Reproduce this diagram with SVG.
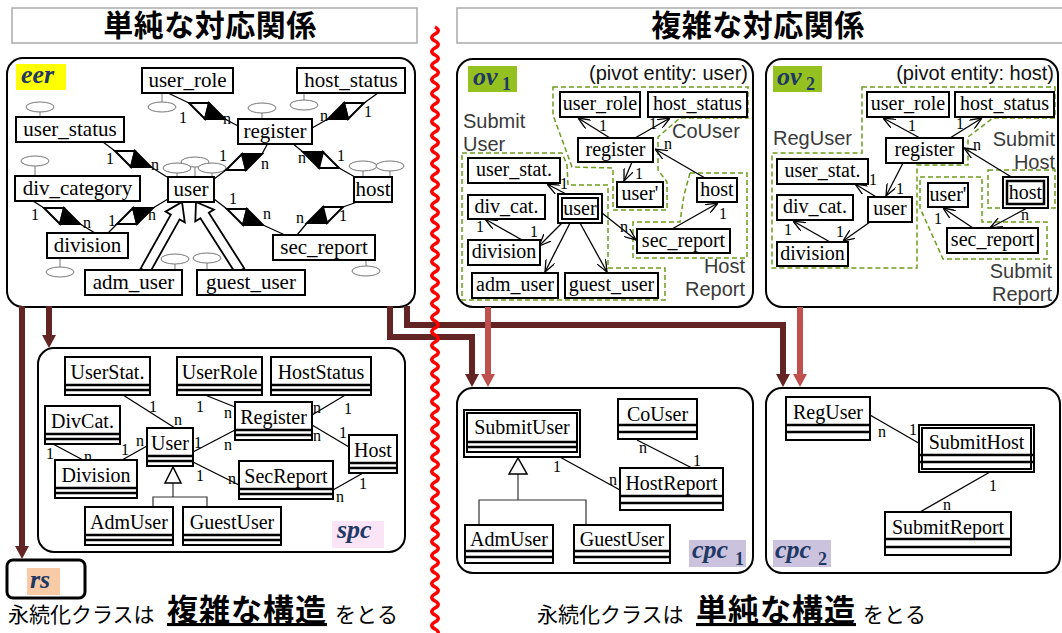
<svg xmlns="http://www.w3.org/2000/svg" width="1062" height="633" viewBox="0 0 1062 633">
<style>
.bx{fill:#fff;stroke:#000;stroke-width:2}
.pn{fill:#fff;stroke:#000;stroke-width:2}
.te{font-family:"Liberation Serif","Times New Roman",Times,"DejaVu Serif",serif;font-size:21px;text-anchor:middle}
.to{font-family:"Liberation Serif","Times New Roman",Times,"DejaVu Serif",serif;font-size:20px;text-anchor:middle}
.lb{font-family:"Liberation Serif","Times New Roman",Times,"DejaVu Serif",serif;font-size:16px;text-anchor:middle}
.el{fill:#fff;stroke:#777;stroke-width:1}
.al{stroke:#777;stroke-width:1}
.ln{stroke:#000;stroke-width:1.3;fill:none}
.gl{stroke:#333;stroke-width:1.2;fill:none}
.ar{stroke:#000;stroke-width:1.3;fill:none;marker-end:url(#oa)}
.rg{fill:none;stroke:#6d9c1c;stroke-width:1.5;stroke-dasharray:5 3}
.rt{font-family:"Liberation Sans",Arial,sans-serif;font-size:20px;fill:#3a3a3a}
.rte{font-family:"Liberation Sans",Arial,sans-serif;font-size:20px;fill:#3a3a3a;text-anchor:end}
.pv{font-family:"Liberation Sans",Arial,sans-serif;font-size:20px;fill:#111;text-anchor:end}
.tag{font-family:"Liberation Serif","Times New Roman",Times,"DejaVu Serif",serif;font-weight:bold;font-style:italic;font-size:26px;fill:#1f3864}
.sub{font-family:"Liberation Serif","Times New Roman",Times,"DejaVu Serif",serif;font-weight:bold;font-size:18px;fill:#1f3864}
.w{fill:#fff;stroke:#000;stroke-width:2}
.k{fill:#000;stroke:#000;stroke-width:2}
.ga{fill:#fff;stroke:#000;stroke-width:1.8}
.big{fill:none;stroke-width:6}
.dk{stroke:#632523}
.lt{stroke:#c0504d}
.hd{font-family:"Noto Sans CJK JP",sans-serif;font-weight:bold;font-size:30px;letter-spacing:0.5px;text-anchor:middle}
.jp{font-family:"Noto Sans CJK JP",sans-serif;font-size:21px}
.jb{font-family:"Noto Sans CJK JP",sans-serif;font-size:31px;letter-spacing:1px;font-weight:bold;text-decoration:underline}
.cl{fill:#fff;stroke:#000;stroke-width:2}
.cs{stroke:#000;stroke-width:2.5}
.hb{fill:#fff;stroke:#aaa;stroke-width:1.5}
</style>
<defs>
<marker id="oa" viewBox="0 0 12 10" refX="12" refY="5" markerWidth="12" markerHeight="10" markerUnits="userSpaceOnUse" orient="auto"><path d="M0,0 L12,5 L0,10" fill="none" stroke="#000" stroke-width="1.3"/></marker>
</defs>

<!-- headers -->
<g id="header-left"><rect class="hb" x="12" y="8" width="405" height="35"/><text class="hd" x="210" y="36">単純な対応関係</text></g>
<g id="header-right"><rect class="hb" x="457" y="8" width="620" height="35"/><text class="hd" x="758" y="36">複雑な対応関係</text></g>

<!-- panels -->
<g id="panel-eer"><rect class="pn" x="7" y="58" width="408" height="249" rx="16"/><rect x="16" y="64" width="50" height="26" fill="#ffff00"/><text class="tag" x="21" y="83">eer</text></g>
<g id="panel-ov1"><rect class="pn" x="457" y="59" width="296" height="248" rx="16"/><rect x="468" y="66" width="49" height="26" fill="#94c11f"/><text class="tag" x="473" y="85">ov</text><text class="sub" x="502" y="90">1</text><text class="pv" x="748" y="80">(pivot entity: user)</text></g>
<g id="panel-ov2"><rect class="pn" x="766" y="59" width="292" height="248" rx="16"/><rect x="773" y="66" width="49" height="26" fill="#94c11f"/><text class="tag" x="777" y="85">ov</text><text class="sub" x="806" y="90">2</text><text class="pv" x="1054" y="80">(pivot entity: host)</text></g>
<g id="panel-spc"><rect class="pn" x="38" y="348" width="367" height="204" rx="16"/><rect x="332" y="521" width="52" height="27" fill="#fce4f7"/><text class="tag" x="337" y="538">spc</text></g>
<g id="panel-cpc1"><rect class="pn" x="457" y="388" width="296" height="185" rx="16"/><rect x="689" y="540" width="57" height="27" fill="#cbc3de"/><text class="tag" x="692" y="558">cpc</text><text class="sub" x="735" y="565">1</text></g>
<g id="panel-cpc2"><rect class="pn" x="766" y="388" width="294" height="185" rx="16"/><rect x="773" y="540" width="58" height="27" fill="#cbc3de"/><text class="tag" x="775" y="558">cpc</text><text class="sub" x="818" y="565">2</text></g>
<g id="panel-rs"><rect x="7" y="560" width="78" height="38" rx="6" fill="#fff" stroke="#000" stroke-width="3"/><rect x="27" y="568" width="33" height="27" fill="#f8cba6"/><text class="tag" x="30" y="588">rs</text></g>

<!-- ov regions -->
<g id="regions">
<polygon class="rg" points="553,87 748,87 748,118 680,118 658,137 658,170 667,182 667,210 613,210 613,168 572,167 553,115"/>
<polygon class="rg" points="462,153 562,153 567,165 568,185 608,185 608,268 665,268 665,300 462,300"/>
<polygon class="rg" points="690,173 747,173 747,258 633,258 633,222 680,222 684,195"/>
<text class="rt" x="672" y="138">CoUser</text>
<text class="rt" x="463" y="128">Submit</text><text class="rt" x="463" y="150.5">User</text>
<text class="rte" x="745" y="273">Host</text><text class="rte" x="745" y="295.5">Report</text>
<polygon class="rg" points="862,87 1055,87 1055,118 993,118 968,137 968,165 917,165 917,268 772,268 772,153 862,153"/>
<rect class="rg" x="988" y="170" width="67" height="38"/>
<polygon class="rg" points="920,177 982,177 982,222 1047,222 1047,259 943,259 920,208"/>
<text class="rt" x="773" y="145">RegUser</text>
<text class="rte" x="1055" y="146">Submit</text><text class="rte" x="1055" y="168.5">Host</text>
<text class="rte" x="1052" y="278">Submit</text><text class="rte" x="1052" y="300.5">Report</text>
</g>

<!-- connectors -->
<g id="connectors">
<g id="eer-attrs">
<line class="al" x1="40" y1="112" x2="40" y2="117"/><ellipse class="el" cx="40" cy="107" rx="14" ry="5"/>
<line class="al" x1="162" y1="93" x2="162" y2="102"/><ellipse class="el" cx="162" cy="107" rx="14" ry="5"/>
<line class="al" x1="35" y1="166" x2="35" y2="176"/><ellipse class="el" cx="35" cy="161" rx="14" ry="5"/>
<line class="al" x1="60" y1="258" x2="60" y2="267"/><ellipse class="el" cx="60" cy="272" rx="14" ry="5"/>
<line class="al" x1="177" y1="173" x2="177" y2="177"/><line class="al" x1="195" y1="167" x2="195" y2="177"/><line class="al" x1="212" y1="173" x2="212" y2="177"/>
<ellipse class="el" cx="195" cy="162" rx="14" ry="5"/><ellipse class="el" cx="177" cy="168" rx="14" ry="5"/><ellipse class="el" cx="212" cy="168" rx="14" ry="5"/>
<line class="al" x1="262" y1="113" x2="262" y2="119"/><ellipse class="el" cx="262" cy="108" rx="14" ry="5"/>
<line class="al" x1="304" y1="93" x2="304" y2="100"/><ellipse class="el" cx="304" cy="105" rx="14" ry="5"/>
<line class="al" x1="363" y1="171" x2="363" y2="177"/><line class="al" x1="390" y1="171" x2="390" y2="177"/>
<ellipse class="el" cx="363" cy="166" rx="14" ry="5"/><ellipse class="el" cx="390" cy="166" rx="14" ry="5"/>
<line class="al" x1="366" y1="260" x2="366" y2="266"/><ellipse class="el" cx="366" cy="271" rx="14" ry="5"/>
<line class="al" x1="175" y1="264" x2="175" y2="270"/><ellipse class="el" cx="175" cy="259" rx="14" ry="5"/>
<line class="al" x1="207" y1="263" x2="207" y2="270"/><ellipse class="el" cx="207" cy="258" rx="14" ry="5"/>
</g>
<g id="eer-rel">
<path class="ln" d="M168,93 L189,103 M225,119 L238,126"/>
<polygon class="w" points="189,103 209,103 205,119"/><polygon class="k" points="209,103 225,119 205,119"/>
<path class="ln" d="M378,93 L364,103 M328,119 L312,128"/>
<polygon class="w" points="344,103 364,103 348,119"/><polygon class="k" points="328,119 348,119 344,103"/>
<path class="ln" d="M103,142 L115,151 M151,167 L167,177"/>
<polygon class="w" points="115,151 135,151 131,167"/><polygon class="k" points="135,151 151,167 131,167"/>
<path class="ln" d="M33,201 L44,208 M80,224 L95,233"/>
<polygon class="w" points="44,208 64,208 60,224"/><polygon class="k" points="64,208 80,224 60,224"/>
<path class="ln" d="M108,233 L117,224 M153,208 L168,199"/>
<polygon class="w" points="117,224 137,224 133,208"/><polygon class="k" points="133,208 153,208 137,224"/>
<path class="ln" d="M214,179 L226,170 M262,154 L268,143"/>
<polygon class="w" points="226,170 246,170 242,154"/><polygon class="k" points="242,154 262,154 246,170"/>
<path class="ln" d="M292,143 L303,152 M339,168 L355,177"/>
<polygon class="k" points="303,152 323,152 319,168"/><polygon class="w" points="323,152 339,168 319,168"/>
<path class="ln" d="M214,199 L227,209 M263,225 L285,235"/>
<polygon class="w" points="227,209 247,209 243,225"/><polygon class="k" points="247,209 263,225 243,225"/>
<path class="ln" d="M297,235 L307,223 M343,207 L360,201"/>
<polygon class="k" points="307,223 327,223 323,207"/><polygon class="w" points="323,207 343,207 327,223"/>
<text class="lb" x="183" y="123">1</text><text class="lb" x="227" y="124">n</text>
<text class="lb" x="324" y="121">n</text><text class="lb" x="368" y="117">1</text>
<text class="lb" x="110" y="164">1</text><text class="lb" x="155" y="170">n</text>
<text class="lb" x="35" y="220">1</text><text class="lb" x="87" y="228">n</text>
<text class="lb" x="112" y="226">1</text><text class="lb" x="152" y="220">n</text>
<text class="lb" x="223" y="161">1</text><text class="lb" x="265" y="169">n</text>
<text class="lb" x="302" y="163">n</text><text class="lb" x="341" y="161">1</text>
<text class="lb" x="233" y="204">1</text><text class="lb" x="267" y="219">n</text>
<text class="lb" x="300" y="223">n</text><text class="lb" x="343" y="221">1</text>
<polygon class="ga" points="140.6,268.6 170.8,214.6 165.6,211.6 182,202 184.8,222.4 179.6,219.4 149.4,273.4"/>
<polygon class="ga" points="235.8,273.7 200.4,218.2 195.3,221.4 196,202 213.9,209.6 208.8,212.8 244.2,268.3"/>
</g>
<g id="ov1-edges">
<line class="ar" x1="610" y1="138" x2="578" y2="118"/><text class="lb" x="603" y="131">1</text>
<line class="ar" x1="635" y1="138" x2="670" y2="118"/><text class="lb" x="653" y="129">1</text>
<line class="ar" x1="632" y1="162" x2="624" y2="181"/><text class="lb" x="639" y="179">1</text>
<line class="ar" x1="705" y1="178" x2="655" y2="149"/><text class="lb" x="668" y="149">n</text>
<line class="ar" x1="672" y1="229" x2="718" y2="203"/><text class="lb" x="723" y="219">1</text>
<line class="ar" x1="602" y1="213" x2="636" y2="240"/><text class="lb" x="624" y="232">n</text>
<line class="ar" x1="568" y1="195" x2="547" y2="184"/><text class="lb" x="564" y="189">1</text>
<line class="ar" x1="522" y1="240" x2="485" y2="219"/><text class="lb" x="480" y="232">1</text><text class="lb" x="534" y="237">1</text>
<line class="ar" x1="562" y1="223" x2="539" y2="246"/>
<line class="ar" x1="570" y1="223" x2="545" y2="272"/>
<line class="ar" x1="580" y1="223" x2="607" y2="272"/>
</g>
<g id="ov2-edges">
<line class="ar" x1="920" y1="138" x2="883" y2="118"/><text class="lb" x="912" y="131">1</text>
<line class="ar" x1="950" y1="138" x2="982" y2="118"/><text class="lb" x="960" y="129">1</text>
<line class="ar" x1="903" y1="163" x2="886" y2="196"/><text class="lb" x="900" y="194">1</text>
<line class="ar" x1="878" y1="198" x2="855" y2="184"/><text class="lb" x="873" y="185">1</text>
<line class="ar" x1="830" y1="242" x2="793" y2="221"/><text class="lb" x="788" y="235">1</text>
<line class="ar" x1="870" y1="222" x2="843" y2="241"/><text class="lb" x="840" y="237">1</text>
<line class="ar" x1="1013" y1="178" x2="964" y2="148"/><text class="lb" x="977" y="150">n</text>
<line class="ar" x1="1027" y1="208" x2="990" y2="228"/><text class="lb" x="1025" y="220">n</text>
<line class="ar" x1="973" y1="228" x2="943" y2="208"/><text class="lb" x="938" y="224">1</text>
</g>
<g id="spc-edges">
<line class="ln" x1="123" y1="395" x2="175" y2="428"/><text class="lb" x="153" y="412">1</text><text class="lb" x="178" y="425">n</text>
<line class="ln" x1="205" y1="395" x2="235" y2="407"/><text class="lb" x="200" y="412">1</text><text class="lb" x="228" y="418">n</text>
<line class="ln" x1="347" y1="394" x2="312" y2="415"/><text class="lb" x="317" y="413">n</text><text class="lb" x="348" y="414">1</text>
<line class="ln" x1="193" y1="452" x2="235" y2="430"/><text class="lb" x="198" y="448">1</text><text class="lb" x="228" y="450">n</text>
<line class="ln" x1="312" y1="425" x2="349" y2="447"/><text class="lb" x="317" y="441">n</text><text class="lb" x="343" y="438">1</text>
<line class="ln" x1="193" y1="462" x2="239" y2="485"/><text class="lb" x="200" y="481">1</text><text class="lb" x="232" y="484">n</text>
<line class="ln" x1="363" y1="473" x2="333" y2="490"/><text class="lb" x="363" y="489">1</text><text class="lb" x="340" y="502">n</text>
<line class="ln" x1="53" y1="444" x2="83" y2="460"/><text class="lb" x="50" y="459">1</text><text class="lb" x="88" y="462">n</text>
<line class="ln" x1="122" y1="460" x2="147" y2="446"/><text class="lb" x="125" y="455">1</text><text class="lb" x="140" y="446">n</text>
<path class="gl" d="M173,483 V497 M153,507 V497 H207 V507"/>
<polygon class="ga" points="173,467 165,483 181,483" style="stroke-width:1.5"/>
</g>
<g id="cpc1-edges">
<line class="ln" x1="637" y1="440" x2="692" y2="468"/><text class="lb" x="643" y="453">n</text><text class="lb" x="697" y="466">1</text>
<line class="ln" x1="558" y1="456" x2="620" y2="490"/><text class="lb" x="557" y="472">1</text><text class="lb" x="613" y="485">n</text>
<path class="gl" d="M518,474 V500 M479,525 V500 H586 V525"/>
<polygon class="ga" points="518,458 509,474 527,474" style="stroke-width:1.5"/>
</g>
<g id="cpc2-edges">
<line class="ln" x1="870" y1="415" x2="922" y2="445"/><text class="lb" x="882" y="437">n</text><text class="lb" x="913" y="435">1</text>
<line class="ln" x1="990" y1="472" x2="920" y2="512"/><text class="lb" x="993" y="491">1</text><text class="lb" x="947" y="510">n</text>
</g>
<g id="mapping-arrows">
<path class="big dk" d="M22,306 V547"/><polygon fill="#632523" points="15,546 29,546 22,559"/>
<path class="big dk" d="M49,306 V336"/><polygon fill="#632523" points="42,335 56,335 49,348"/>
<path class="big dk" d="M390,306 V337 H472 V375"/><polygon fill="#632523" points="465,374 479,374 472,387"/>
<path class="big dk" d="M407,306 V325 H783 V375"/><polygon fill="#632523" points="776,374 790,374 783,387"/>
<path class="big lt" d="M488,307 V375"/><polygon fill="#c0504d" points="481,374 495,374 488,387"/>
<path class="big lt" d="M800,307 V375"/><polygon fill="#c0504d" points="793,374 807,374 800,387"/>
</g>
</g>

<!-- eer nodes -->
<g id="eer-user_role"><rect class="bx" x="142" y="68" width="91" height="25"/><text class="te" x="187.5" y="87">user_role</text></g>
<g id="eer-host_status"><rect class="bx" x="297" y="68" width="108" height="25"/><text class="te" x="351" y="87">host_status</text></g>
<g id="eer-user_status"><rect class="bx" x="16" y="117" width="108" height="25"/><text class="te" x="70" y="136">user_status</text></g>
<g id="eer-register"><rect class="bx" x="238" y="119" width="74" height="25"/><text class="te" x="275" y="138">register</text></g>
<g id="eer-div_category"><rect class="bx" x="15" y="176" width="125" height="25"/><text class="te" x="77.5" y="195">div_category</text></g>
<g id="eer-user"><rect class="bx" x="168" y="177" width="46" height="25"/><text class="te" x="191" y="196">user</text></g>
<g id="eer-host"><rect class="bx" x="354" y="177" width="38" height="25"/><text class="te" x="373" y="196">host</text></g>
<g id="eer-division"><rect class="bx" x="47" y="233" width="81" height="25"/><text class="te" x="87.5" y="252">division</text></g>
<g id="eer-sec_report"><rect class="bx" x="273" y="235" width="102" height="25"/><text class="te" x="324" y="254">sec_report</text></g>
<g id="eer-adm_user"><rect class="bx" x="85" y="270" width="97" height="25"/><text class="te" x="133.5" y="289">adm_user</text></g>
<g id="eer-guest_user"><rect class="bx" x="197" y="270" width="108" height="25"/><text class="te" x="251" y="289">guest_user</text></g>

<!-- ov1 nodes -->
<g id="ov1-user_role"><rect class="bx" x="560" y="92" width="80" height="25"/><text class="to" x="600" y="110">user_role</text></g>
<g id="ov1-host_status"><rect class="bx" x="648" y="92" width="99" height="25"/><text class="to" x="697.5" y="110">host_status</text></g>
<g id="ov1-register"><rect class="bx" x="578" y="138" width="75" height="24"/><text class="to" x="615.5" y="156">register</text></g>
<g id="ov1-user_prime"><rect class="bx" x="617" y="182" width="46" height="25"/><text class="to" x="640" y="200">user'</text></g>
<g id="ov1-user_stat"><rect class="bx" x="468" y="158" width="92" height="25"/><text class="to" x="514" y="176">user_stat.</text></g>
<g id="ov1-user"><rect class="bx" x="558" y="194" width="44" height="29"/><rect class="bx" x="562" y="198" width="36" height="21"/><text class="to" x="580" y="215">user</text></g>
<g id="ov1-div_cat"><rect class="bx" x="468" y="195" width="77" height="24"/><text class="to" x="506.5" y="213">div_cat.</text></g>
<g id="ov1-division"><rect class="bx" x="468" y="240" width="72" height="25"/><text class="to" x="504" y="258">division</text></g>
<g id="ov1-sec_report"><rect class="bx" x="637" y="229" width="93" height="24"/><text class="to" x="683.5" y="247">sec_report</text></g>
<g id="ov1-host"><rect class="bx" x="697" y="178" width="40" height="24"/><text class="to" x="717" y="196">host</text></g>
<g id="ov1-adm_user"><rect class="bx" x="472" y="273" width="86" height="25"/><text class="to" x="515" y="291">adm_user</text></g>
<g id="ov1-guest_user"><rect class="bx" x="565" y="273" width="93" height="25"/><text class="to" x="611.5" y="291">guest_user</text></g>

<!-- ov2 nodes -->
<g id="ov2-user_role"><rect class="bx" x="867" y="92" width="82" height="25"/><text class="to" x="908" y="110">user_role</text></g>
<g id="ov2-host_status"><rect class="bx" x="955" y="92" width="99" height="25"/><text class="to" x="1004.5" y="110">host_status</text></g>
<g id="ov2-register"><rect class="bx" x="886" y="138" width="77" height="25"/><text class="to" x="924.5" y="156">register</text></g>
<g id="ov2-user_stat"><rect class="bx" x="777" y="159" width="91" height="25"/><text class="to" x="822.5" y="177">user_stat.</text></g>
<g id="ov2-user"><rect class="bx" x="868" y="197" width="44" height="25"/><text class="to" x="890" y="215">user</text></g>
<g id="ov2-div_cat"><rect class="bx" x="777" y="195" width="76" height="25"/><text class="to" x="815" y="213">div_cat.</text></g>
<g id="ov2-division"><rect class="bx" x="777" y="242" width="71" height="24"/><text class="to" x="812.5" y="260">division</text></g>
<g id="ov2-user_prime"><rect class="bx" x="928" y="183" width="40" height="24"/><text class="to" x="948" y="201">user'</text></g>
<g id="ov2-host"><rect class="bx" x="1003" y="177" width="45" height="31"/><rect x="1007" y="181" width="37" height="23" fill="#fff" stroke="#000" stroke-width="2.5"/><text class="to" x="1025.5" y="199">host</text></g>
<g id="ov2-sec_report"><rect class="bx" x="947" y="228" width="91" height="25"/><text class="to" x="992.5" y="246">sec_report</text></g>

<!-- spc classes -->
<g id="spc-UserStat"><rect class="cl" x="65" y="357" width="85" height="38"/><path class="cs" d="M65,385 H150 M65,390 H150"/><text class="to" x="107.5" y="379">UserStat.</text></g>
<g id="spc-UserRole"><rect class="cl" x="177" y="357" width="85" height="38"/><path class="cs" d="M177,385 H262 M177,390 H262"/><text class="to" x="219.5" y="379">UserRole</text></g>
<g id="spc-HostStatus"><rect class="cl" x="271" y="357" width="100" height="38"/><path class="cs" d="M271,385 H371 M271,390 H371"/><text class="to" x="321" y="379">HostStatus</text></g>
<g id="spc-DivCat"><rect class="cl" x="45" y="406" width="75" height="38"/><path class="cs" d="M45,434 H120 M45,439 H120"/><text class="to" x="82.5" y="428">DivCat.</text></g>
<g id="spc-User"><rect class="cl" x="147" y="428" width="46" height="38"/><path class="cs" d="M147,456 H193 M147,461 H193"/><text class="to" x="170" y="450">User</text></g>
<g id="spc-Register"><rect class="cl" x="235" y="402" width="77" height="38"/><path class="cs" d="M235,430 H312 M235,435 H312"/><text class="to" x="273.5" y="424">Register</text></g>
<g id="spc-Division"><rect class="cl" x="55" y="460" width="82" height="38"/><path class="cs" d="M55,488 H137 M55,493 H137"/><text class="to" x="96" y="482">Division</text></g>
<g id="spc-Host"><rect class="cl" x="349" y="435" width="48" height="38"/><path class="cs" d="M349,463 H397 M349,468 H397"/><text class="to" x="373" y="457">Host</text></g>
<g id="spc-SecReport"><rect class="cl" x="239" y="461" width="94" height="38"/><path class="cs" d="M239,489 H333 M239,494 H333"/><text class="to" x="286" y="483">SecReport</text></g>
<g id="spc-AdmUser"><rect class="cl" x="85" y="507" width="88" height="38"/><path class="cs" d="M85,535 H173 M85,540 H173"/><text class="to" x="129" y="529">AdmUser</text></g>
<g id="spc-GuestUser"><rect class="cl" x="183" y="507" width="98" height="38"/><path class="cs" d="M183,535 H281 M183,540 H281"/><text class="to" x="232" y="529">GuestUser</text></g>

<!-- cpc1 classes -->
<g id="cpc1-SubmitUser"><rect class="cl" x="464" y="410" width="116" height="47"/><rect class="cl" x="467" y="413" width="110" height="39"/><path class="cs" d="M467,442 H577 M467,447 H577"/><text class="to" x="522" y="434">SubmitUser</text></g>
<g id="cpc1-CoUser"><rect class="cl" x="618" y="399" width="79" height="40"/><path class="cs" d="M618,425 H697 M618,432 H697"/><text class="to" x="657.5" y="421">CoUser</text></g>
<g id="cpc1-HostReport"><rect class="cl" x="620" y="468" width="103" height="42"/><path class="cs" d="M620,496 H723 M620,503 H723"/><text class="to" x="671.5" y="490">HostReport</text></g>
<g id="cpc1-AdmUser"><rect class="cl" x="465" y="525" width="88" height="38"/><path class="cs" d="M465,551 H553 M465,557 H553"/><text class="to" x="509" y="546">AdmUser</text></g>
<g id="cpc1-GuestUser"><rect class="cl" x="574" y="525" width="96" height="38"/><path class="cs" d="M574,551 H670 M574,557 H670"/><text class="to" x="622" y="546">GuestUser</text></g>

<!-- cpc2 classes -->
<g id="cpc2-RegUser"><rect class="cl" x="786" y="397" width="84" height="43"/><path class="cs" d="M786,425 H870 M786,432 H870"/><text class="to" x="828" y="419">RegUser</text></g>
<g id="cpc2-SubmitHost"><rect class="cl" x="919" y="425" width="115" height="47"/><rect class="cl" x="922" y="428" width="109" height="41"/><path class="cs" d="M920,455 H1033 M920,462 H1033"/><text class="to" x="976.5" y="449">SubmitHost</text></g>
<g id="cpc2-SubmitReport"><rect class="cl" x="885" y="512" width="126" height="43"/><path class="cs" d="M885,539 H1011 M885,547 H1011"/><text class="to" x="948" y="534">SubmitReport</text></g>

<!-- red wave divider -->
<path id="divider" d="M435,27 q6.5,3.5 0,7 t0,7t0,7t0,7t0,7t0,7t0,7t0,7t0,7t0,7t0,7 t0,7t0,7t0,7t0,7t0,7t0,7t0,7t0,7t0,7t0,7 t0,7t0,7t0,7t0,7t0,7t0,7t0,7t0,7t0,7t0,7 t0,7t0,7t0,7t0,7t0,7t0,7t0,7t0,7t0,7t0,7 t0,7t0,7t0,7t0,7t0,7t0,7t0,7t0,7t0,7t0,7 t0,7t0,7t0,7t0,7t0,7t0,7t0,7t0,7t0,7t0,7 t0,7t0,7t0,7t0,7t0,7t0,7t0,7t0,7t0,7t0,7 t0,7t0,7t0,7t0,7t0,7t0,7t0,7t0,7t0,7t0,7 t0,7t0,7t0,7t0,7t0,7t0,7" fill="none" stroke="#ff0000" stroke-width="3.5"/>

<!-- bottom captions -->
<g id="caption-left"><text class="jp" x="8" y="622">永続化クラスは</text><text class="jb" x="167" y="621">複雑な構造</text><text class="jp" x="335" y="622">をとる</text></g>
<g id="caption-right"><text class="jp" x="537" y="622">永続化クラスは</text><text class="jb" x="696" y="621">単純な構造</text><text class="jp" x="863" y="622">をとる</text></g>
</svg>
